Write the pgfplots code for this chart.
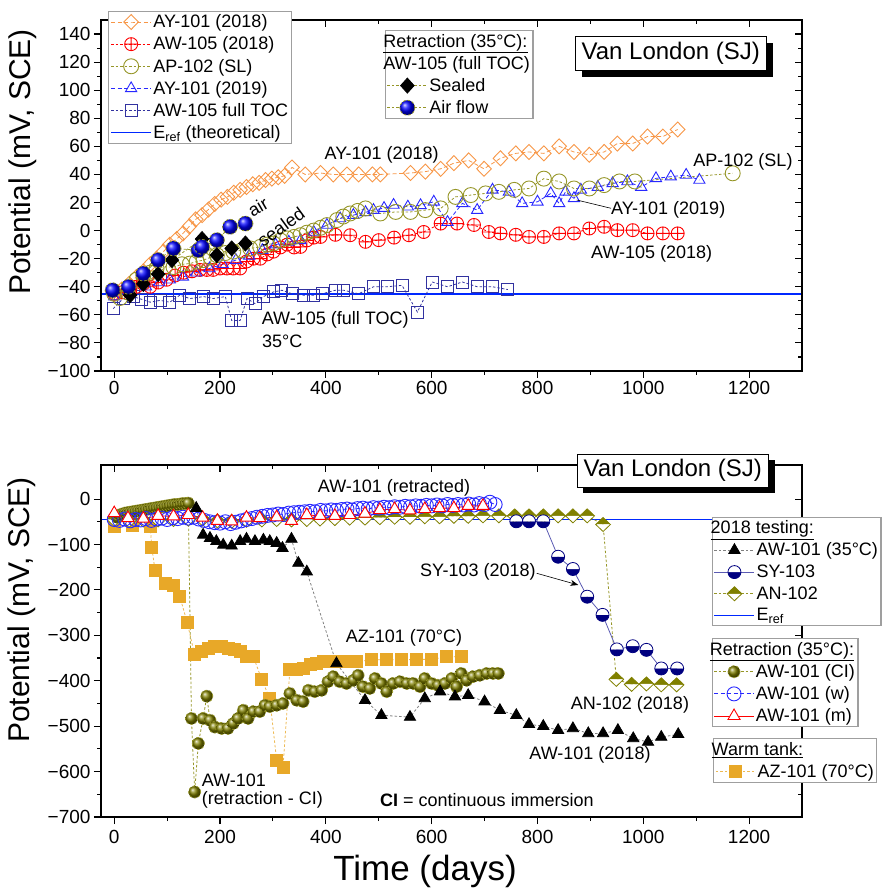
\documentclass[border=0pt]{standalone}
\usepackage{fontspec}
\setmainfont{Liberation Sans}
\usepackage{pgfplots}
\pgfplotsset{compat=1.18}
\usetikzlibrary{plotmarks,arrows.meta}

\definecolor{ayorange}{RGB}{247,150,70}
\definecolor{olivec}{RGB}{150,150,40}
\definecolor{olived}{RGB}{128,128,0}
\definecolor{navyc}{RGB}{50,50,160}
\definecolor{navyd}{RGB}{0,0,128}
\definecolor{goldc}{RGB}{232,168,40}
\definecolor{blued}{RGB}{40,40,255}
\definecolor{refblue}{RGB}{0,40,255}

\newcommand{\tickfont}{\fontsize{19bp}{22bp}\selectfont}
\newcommand{\legfont}{\fontsize{18bp}{21bp}\selectfont}
\newcommand{\lblfont}{\fontsize{30bp}{35bp}\selectfont}

\pgfplotsset{
  legend image code/.code={\draw[mark repeat=2,mark phase=2,#1] plot coordinates {(0bp,0bp) (20bp,0bp) (40bp,0bp)};},
  frame/.style={scale only axis, width=701bp, xmin=-25, xmax=1300,
    axis line style={line width=1.3bp},
    every tick/.style={black,line width=1.1bp},
    major tick length=7bp, minor tick length=4bp,
    xtick={0,200,...,1200}, minor x tick num=1,
    tick label style={font=\tickfont}},
  outer ticks/.style={tick align=outside, xtick pos=left, ytick pos=left,
    xticklabels={0,200,400,600,800,1000,1200}},
  inner ticks/.style={tick align=inside, xtick pos=right, ytick pos=right,
    xticklabels={}, yticklabels={}},
  upper/.style={frame, height=351bp, ymin=-100, ymax=150,
    ytick={-100,-80,...,140}, minor y tick num=1,
    at={(101bp,518bp)}, anchor=south west},
  lower/.style={frame, height=352bp, ymin=-700, ymax=75,
    ytick={-700,-600,...,0}, minor y tick num=1,
    at={(101bp,72bp)}, anchor=south west},
  legbox/.style={legend cell align=left,
    legend style={draw=gray!75, line width=1.1bp, fill=white, font=\legfont,
      inner xsep=1.5bp, inner ysep=2bp, row sep=4.6bp, nodes={inner sep=1.5bp}}},
  dotl/.style={dash pattern=on 2.5bp off 2bp, line width=0.8bp},
  dashl/.style={dash pattern=on 4bp off 2.5bp, line width=0.8bp},
  % upper panel series
  s1/.style={color=ayorange, dashl, mark=diamond, mark size=7.5bp, mark options={solid, xscale=1.3, line width=0.9bp}},
  s2/.style={color=red, dotl, mark=oplus, mark size=6.5bp, mark options={solid, line width=0.9bp}},
  s3/.style={color=olivec, dotl, mark=o, mark size=7.5bp, mark options={solid, line width=0.9bp}},
  s4/.style={color=blued, dashl, mark=triangle, mark size=6.5bp, mark options={solid, line width=0.9bp}},
  s5/.style={color=navyc, dotl, mark=square, mark size=6bp, mark options={solid, line width=0.9bp}},
  erefl/.style={draw=refblue, color=refblue, solid, line width=1.6bp, mark=none},
  s7/.style={color=olivec, dotl, mark=diamond*, mark size=7.5bp, mark options={solid, fill=black, draw=black, xscale=1.2}},
  s8/.style={color=olivec, dotl, mark=ball, mark size=7.5bp, mark options={ball color=blue}},
  % lower panel series
  b1/.style={color=gray, dotl, mark=triangle*, mark size=6.5bp, mark options={solid, fill=black, draw=black}},
  b2/.style={color=navyc!80, solid, line width=0.8bp, mark=halfcircle*, mark size=6.5bp, mark options={solid, draw=navyd, fill=navyd, mark color=white, rotate=180, line width=0.8bp}},
  b3/.style={color=olivec, dotl, mark=halfdiamond*, mark size=7bp, mark options={solid, draw=olived, fill=olived, mark color=white, rotate=180, xscale=1.4, line width=0.8bp}},
  b5/.style={color=olivec, dotl, mark=ball, mark size=6bp, mark options={ball color=olived}},
  b6/.style={color=blued, dashl, mark=o, mark size=7bp, mark options={solid, line width=0.9bp}},
  b7/.style={color=red, solid, line width=0.8bp, mark=triangle*, mark size=7bp, mark options={solid, fill=white, draw=red, line width=0.9bp}},
  b8/.style={color=goldc!80, dotl, mark=square*, mark size=6bp, mark options={solid, fill=goldc, draw=goldc}},
}

\begin{document}
\begin{tikzpicture}
\useasboundingbox (0,0) rectangle (883bp,889bp);

%% ---------------- upper panel ----------------
\begin{axis}[upper, outer ticks,
  yticklabels={−100,−80,−60,−40,−20,0,20,40,60,80,100,120,140}]
\addplot[erefl] coordinates {(-25,-45) (1300,-45)};
\addplot[s5] coordinates {(-2,-55.6) (17,-48.4) (36,-47) (52,-49) (68,-51) (87,-49.7) (105,-51) (124,-46) (143,-48.4) (169,-47) (187,-48.4) (210,-47) (222,-64) (238,-64) (251,-48.4) (266,-52) (282,-47) (301,-43.7) (317,-42.5) (336,-45) (358,-46) (377,-46) (393,-45) (418,-42.5) (434,-42.5) (462,-45) (490,-40) (516,-40) (544,-39) (573,-58) (601,-36.6) (630,-40) (658,-36.6) (686,-40) (715,-40) (744,-42)};
\addplot[s1] coordinates {(0,-45) (14,-42) (28,-38) (42,-33) (55,-29) (68,-24) (80,-20) (93,-15) (105,-10) (118,-6) (130,-2) (142,3) (154,8) (166,11) (178,15) (190,19) (202,22) (214,24) (226,27) (238,29) (250,31) (262,33) (274,34) (286,36) (298,37) (310,38) (322,39) (336,45) (361,40) (390,41) (414,40) (440,40) (462,40) (488,40) (503,40) (560,41) (588,42) (617,44) (642,48) (670,50) (699,44) (730,51.5) (759,55) (784,56) (812,55) (841,60) (869,56) (898,54) (926,56) (951,62) (980,62) (1008,67) (1037,67) (1065,72)};
\addplot[s2] coordinates {(0,-45) (14,-44) (28,-42) (42,-40) (55,-38) (68,-40) (83,-37) (99,-35) (115,-32) (131,-30) (147,-29) (162,-28) (175,-28) (187,-28) (200,-27) (213,-27) (225,-27) (238,-27) (250,-22) (263,-20) (276,-20) (289,-17) (301,-15) (314,-12) (327,-10) (340,-12) (352,-11.6) (364,-7) (377,-5) (390,-4.5) (418,-3) (446,-3.3) (475,-8) (500,-6.8) (529,-5) (557,-3.3) (585,-1) (617,5) (648,5) (680,4) (708,-1) (730,-2) (759,-3) (784,-4.5) (812,-4.5) (841,-2) (869,-2) (898,1.5) (926,2.7) (951,0.3) (980,0.3) (1008,-2) (1037,-2) (1065,-2)};
\addplot[s4] coordinates {(0,-47) (30,-44) (60,-40) (85,-37) (105,-35) (130,-33) (155,-30) (180,-27) (205,-24) (230,-21) (255,-18) (280,-14) (305,-10) (330,-8) (352,-7) (377,-1) (402,4) (427,8.6) (452,11) (475,13) (490,14.6) (510,16) (528,18.2) (555,17) (579,18) (604,20.5) (630,6) (658,19.4) (686,14.6) (715,29) (746,27.6) (771,19.4) (800,20.5) (825,26.5) (841,19.4) (853,27.6) (869,23) (882,29) (914,31) (942,33.6) (970,35) (996,31) (1024,37.2) (1052,38.4) (1081,39.6) (1106,36)};
\addplot[s3] coordinates {(0,-45) (11,-48) (25,-44) (42,-35) (55,-32) (68,-30) (80,-27) (96,-26) (112,-26) (128,-24) (143,-23.5) (156,-22) (169,-21) (182,-19) (194,-17.5) (210,-16) (225,-15) (241,-14) (257,-12.7) (276,-11.6) (289,-10) (301,-9.2) (314,-7) (327,-5.6) (340,-4.5) (352,-3.3) (364,-1.5) (377,0) (390,2) (402,3.9) (421,7.5) (433,10) (446,12.2) (460,14) (475,15.8) (503,12.2) (532,13.3) (560,13.3) (588,14.6) (617,15.8) (645,24) (674,25.3) (702,26.5) (727,27.6) (756,29) (784,30) (812,37) (841,35) (869,30) (898,30) (926,32.4) (955,35) (984,35) (1169,40.8)};
\addplot[s7] coordinates {(30,-46) (55,-38) (83,-31) (109,-21) (166,-6) (194,-17.5) (222,-12.7) (248,-9.2)};
\addplot[s8] coordinates {(-3,-42.5) (27,-40) (55,-30.6) (83,-21) (112,-12.7) (159,-14) (166,-11.6) (194,-6.8) (219,2.7) (248,5)};
\end{axis}

\begin{axis}[upper, inner ticks, legbox,
  legend style={at={(0.0104,1.0265)}, anchor=north west}]
\addlegendimage{s1}\addlegendentry{AY-101 (2018)}
\addlegendimage{s2}\addlegendentry{AW-105 (2018)}
\addlegendimage{s3}\addlegendentry{AP-102 (SL)}
\addlegendimage{s4}\addlegendentry{AY-101 (2019)}
\addlegendimage{s5}\addlegendentry{AW-105 full TOC}
\addlegendimage{erefl}\addlegendentry{E\textsubscript{ref} (theoretical)}
\end{axis}

\begin{axis}[upper, hide axis, legbox,
  legend style={at={(0.405,0.9715)}, anchor=north west}]
\addlegendimage{empty legend}\addlegendentry{\hspace*{-46bp}\underline{Retraction (35°C):}}
\addlegendimage{empty legend}\addlegendentry{\hspace*{-46bp}AW-105 (full TOC)}
\addlegendimage{s7}\addlegendentry{Sealed}
\addlegendimage{s8}\addlegendentry{Air flow}
\end{axis}

%% ---------------- lower panel ----------------
% reference potential, drawn beneath the measured series
\begin{axis}[lower, hide axis]
\addplot[erefl] coordinates {(-25,-45) (1300,-45)};
\end{axis}

\begin{axis}[lower, outer ticks, xticklabel style={yshift=-3bp},
  yticklabels={−700,−600,−500,−400,−300,−200,−100,0}]
\addplot[b8] coordinates {(0,-60) (35,-58) (68,-60) (71,-106) (77,-156) (96,-185) (112,-189) (124,-215) (138,-272) (152,-343) (165,-336) (178,-329) (190,-325) (203,-325) (215,-329) (228,-332) (238,-336) (250,-347) (263,-347) (279,-398) (294,-439) (307,-575) (319,-590) (332,-376) (345,-376) (357,-373) (370,-365) (383,-362) (395,-358) (408,-358) (433,-358) (458,-358) (486,-354) (515,-354) (543,-354) (571,-353) (600,-353) (628,-347) (656,-347)};
\addplot[b3] coordinates {(0,-45) (28,-47) (55,-46) (83,-46) (112,-45) (140,-44) (167,-44) (195,-48) (222,-49) (250,-47) (279,-46) (307,-45) (335,-46) (364,-45) (389,-44) (417,-43) (445,-42) (474,-42) (502,-41) (530,-40) (559,-40) (587,-39) (615,-39) (642,-38) (669,-38) (697,-37) (727,-37) (757,-37) (784,-37) (811,-37) (839,-37) (867,-37) (894,-37) (924,-56) (949,-397) (978,-408) (1006,-407) (1034,-409) (1063,-409)};
\addplot[b5] coordinates {(5,-40) (10,-35) (15,-33) (20,-31) (25,-30) (30,-29) (35,-28) (40,-27) (45,-26) (50,-25) (55,-24) (60,-23) (65,-22) (70,-21) (75,-20) (80,-19) (85,-18) (90,-17) (95,-16) (100,-15) (105,-14) (110,-13) (115,-12) (120,-12) (125,-11) (130,-10) (135,-10) (140,-9) (146,-483) (152,-645) (159,-538) (168,-483) (175,-434) (181,-487) (190,-502) (203,-505) (215,-505) (225,-494) (234,-483) (244,-465) (253,-483) (263,-468) (275,-468) (285,-454) (294,-457) (307,-454) (319,-450) (332,-428) (345,-443) (357,-446) (367,-421) (379,-424) (392,-421) (404,-402) (414,-391) (426,-402) (439,-406) (452,-399) (461,-388) (470,-413) (483,-417) (493,-395) (505,-406) (515,-424) (527,-406) (540,-402) (553,-406) (565,-406) (578,-413) (587,-395) (600,-406) (612,-410) (625,-406) (638,-395) (647,-413) (656,-384) (666,-399) (678,-391) (691,-388) (704,-384) (716,-384) (726,-384)};
\addplot[b6] coordinates {(0,-45) (10,-47) (20,-44) (30,-48) (40,-45) (50,-46) (60,-43) (70,-47) (80,-44) (90,-42) (100,-45) (110,-41) (120,-43) (130,-40) (140,-42) (150,-40) (160,-44) (170,-47) (180,-50) (190,-52) (200,-53) (210,-50) (220,-54) (230,-51) (240,-48) (250,-45) (260,-43) (270,-40) (280,-38) (290,-36) (300,-35) (310,-33) (320,-34) (330,-31) (340,-30) (350,-29) (360,-28) (370,-27) (380,-28) (390,-25) (400,-26) (410,-24) (420,-25) (430,-23) (440,-22) (450,-24) (460,-21) (470,-20) (480,-22) (490,-19) (500,-20) (510,-18) (520,-19) (530,-17) (540,-18) (550,-16) (560,-17) (570,-15) (580,-16) (590,-14) (600,-15) (610,-13) (620,-15) (630,-12) (640,-14) (650,-12) (660,-13) (670,-11) (680,-13) (690,-10) (700,-12) (710,-7) (720,-12)};
\addplot[b7] coordinates {(0,-31) (26,-42) (55,-43) (83,-37) (112,-38) (140,-35) (167,-41) (195,-48) (222,-49) (250,-41) (275,-42) (307,-40) (335,-48) (364,-35) (389,-37) (417,-37) (445,-35) (474,-32) (502,-24) (530,-22) (559,-25) (587,-22) (615,-20) (642,-20) (669,-15) (697,-15)};
\addplot[b1] coordinates {(155,-20) (168,-79) (181,-86) (193,-93) (206,-101) (222,-103) (238,-93) (250,-88) (266,-93) (282,-90) (294,-93) (307,-97) (318,-108) (335,-88) (348,-141) (364,-160) (420,-362) (474,-443) (505,-476) (559,-480) (587,-439) (616,-424) (644,-435) (669,-432) (700,-446) (729,-465) (760,-476) (784,-496) (811,-500) (839,-509) (867,-505) (896,-516) (924,-516) (952,-509) (981,-527) (1009,-535) (1034,-524) (1066,-518)};
\addplot[b2] coordinates {(760,-49) (784,-49) (811,-49) (839,-127) (867,-154) (894,-215) (923,-255) (950,-331) (980,-324) (1006,-332) (1034,-373) (1064,-373)};
\end{axis}

\begin{axis}[lower, inner ticks]
\end{axis}

\begin{axis}[lower, hide axis, legbox,
  legend style={at={(0.871,0.853)}, anchor=north west}]
\addlegendimage{empty legend}\addlegendentry{\hspace*{-46bp}\underline{2018 testing:}}
\addlegendimage{b1}\addlegendentry{AW-101 (35°C)}
\addlegendimage{b2}\addlegendentry{SY-103}
\addlegendimage{b3}\addlegendentry{AN-102}
\addlegendimage{erefl}\addlegendentry{E\textsubscript{ref}}
\end{axis}

\begin{axis}[lower, hide axis, legbox,
  legend style={at={(0.871,0.5077)}, anchor=north west}]
\addlegendimage{empty legend}\addlegendentry{\hspace*{-46bp}\underline{Retraction (35°C):}}
\addlegendimage{b5}\addlegendentry{AW-101 (CI)}
\addlegendimage{b6}\addlegendentry{AW-101 (w)}
\addlegendimage{b7}\addlegendentry{AW-101 (m)}
\end{axis}

\begin{axis}[lower, hide axis, legbox,
  legend style={at={(0.8735,0.2236)}, anchor=north west}]
\addlegendimage{empty legend}\addlegendentry{\hspace*{-46bp}\underline{Warm tank:}}
\addlegendimage{b8}\addlegendentry{AZ-101 (70°C)}
\end{axis}

%% ---------------- labels and annotations ----------------
\begin{scope}[x=1bp, y=-1bp, yshift=889bp, font=\legfont]
  % axis titles
  \node[rotate=90, font=\lblfont] at (23,162) {Potential (mV, SCE)};
  \node[rotate=90, font=\lblfont] at (22,610) {Potential (mV, SCE)};
  \node[anchor=base, inner sep=0pt, font=\fontsize{35bp}{40bp}\selectfont] at (425,881) {Time (days)};
  % panel titles with shadow
  \fill[black] (581.7,43.3) rectangle (773.3,77.3);
  \filldraw[fill=white, draw=black, line width=0.8bp] (575.7,36) rectangle (766,70.7);
  \node[font=\fontsize{24bp}{28bp}\selectfont] at (670.8,53.3) {Van London (SJ)};
  \fill[black] (583.3,460.3) rectangle (775,493.3);
  \filldraw[fill=white, draw=black, line width=0.8bp] (577.3,454) rectangle (768.3,487.3);
  \node[font=\fontsize{24bp}{28bp}\selectfont] at (672.8,470.7) {Van London (SJ)};
  % upper panel notes
  \node at (381.7,155) {AY-101 (2018)};
  \node at (743,162) {AP-102 (SL)};
  \draw[line width=0.6bp] (576.7,200) -- (611,208.3);
  \node[anchor=west, inner sep=0pt] at (611,210) {AY-101 (2019)};
  \node[anchor=west, inner sep=0pt] at (591,254) {AW-105 (2018)};
  \node[anchor=west, inner sep=0pt] at (261.7,320) {AW-105 (full TOC)};
  \node[anchor=west, inner sep=0pt] at (262,341.7) {35°C};
  \node[rotate=30, inner sep=0pt] at (258,207) {air};
  \node[rotate=36, inner sep=0pt] at (281,227) {sealed};
  % lower panel notes
  \node at (394,488) {AW-101 (retracted)};
  \node[anchor=west, inner sep=0pt] at (420,572) {SY-103 (2018)};
  \draw[line width=0.6bp, -{Stealth[length=8bp,width=6bp]}] (536.7,573.3) -- (578.3,585);
  \node at (404,638) {AZ-101 (70°C)};
  \node[anchor=west, inner sep=0pt] at (201.7,780) {AW-101};
  \node[anchor=west, inner sep=0pt] at (201.7,800) {(retraction - CI)};
  \node[anchor=west, inner sep=0pt] at (380,800) {\textbf{CI} = continuous immersion};
  \node at (630,705) {AN-102 (2018)};
  \node at (590,755) {AW-101 (2018)};
\end{scope}
\end{tikzpicture}
\end{document}
